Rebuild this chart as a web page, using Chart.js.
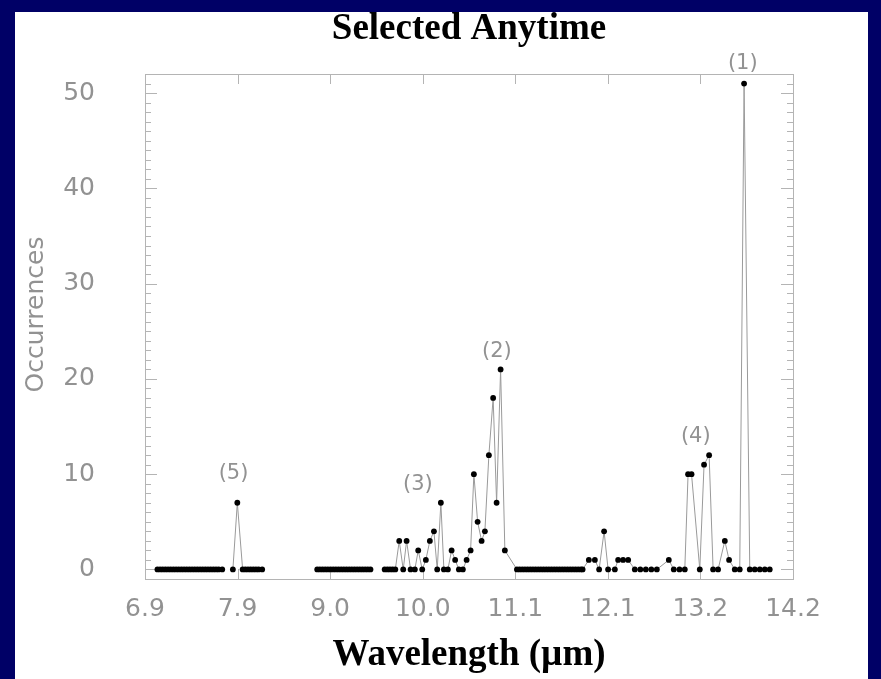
<!DOCTYPE html>
<html><head><meta charset="utf-8">
<script src="https://cdn.jsdelivr.net/npm/chart.js@4.4.1/dist/chart.umd.min.js"></script>
<style>
html,body{margin:0;padding:0;background:#000066;width:881px;height:679px;overflow:hidden;}
#panel{position:absolute;left:15px;top:12px;width:853px;height:667px;background:#fff;}
canvas{display:block;}
</style></head><body>
<div id="panel"><canvas id="c" width="853" height="667"></canvas></div>
<script>
// Wavelength (µm) of each channel; null occurrences break the line at channel gaps
const wavelengths = [
  7.04, 7.07, 7.10, 7.13, 7.16, 7.19, 7.22, 7.25, 7.28, 7.31, 7.34, 7.37, 7.40, 7.43, 7.46, 7.49, 7.52, 7.55, 7.58, 7.61, 7.64, 7.67, 7.70, 7.73, 7.77,
  7.83,
  7.89, 7.94,
  8.00, 8.03, 8.06, 8.09, 8.12, 8.15, 8.18, 8.22,
  8.50,
  8.84, 8.87, 8.90, 8.93, 8.96, 8.99, 9.02, 9.05, 9.08, 9.11, 9.14, 9.17, 9.20, 9.23, 9.26, 9.29, 9.32, 9.35, 9.38, 9.41, 9.44,
  9.52,
  9.60, 9.63, 9.66, 9.69, 9.72,
  9.764, 9.809, 9.847, 9.892, 9.94, 9.978, 10.023, 10.064, 10.109, 10.155, 10.192, 10.233, 10.267, 10.312, 10.354, 10.394,
  10.436, 10.481, 10.523, 10.568, 10.605, 10.647, 10.692, 10.729, 10.774, 10.822, 10.861, 10.906, 10.954,
  11.09, 11.12, 11.15, 11.18, 11.21, 11.24, 11.27, 11.30, 11.33, 11.36, 11.39, 11.42, 11.45, 11.48, 11.51, 11.54, 11.57, 11.60, 11.63, 11.66, 11.69, 11.72, 11.75, 11.78, 11.81, 11.83,
  11.90, 11.968, 12.016, 12.072, 12.117, 12.193, 12.23, 12.286, 12.343, 12.418, 12.48, 12.542, 12.604, 12.666,
  12.801, 12.857, 12.921, 12.981, 13.018, 13.057, 13.15, 13.198, 13.255, 13.30, 13.356, 13.432, 13.48, 13.544, 13.60,
  13.649, 13.713, 13.769, 13.826, 13.882, 13.938
];
const occurrences = [
  0,0,0,0,0,0,0,0,0,0,0,0,0,0,0,0,0,0,0,0,0,0,0,0,0,
  null,
  0, 7,
  0,0,0,0,0,0,0,0,
  null,
  0,0,0,0,0,0,0,0,0,0,0,0,0,0,0,0,0,0,0,0,0,
  null,
  0,0,0,0,0,
  3, 0, 3, 0, 0, 2, 0, 1, 3, 4, 0, 7, 0, 0, 2, 1,
  0, 0, 1, 2, 10, 5, 3, 4, 12, 18, 7, 21, 2,
  0,0,0,0,0,0,0,0,0,0,0,0,0,0,0,0,0,0,0,0,0,0,0,0,0,0,
  1, 1, 0, 4, 0, 0, 1, 1, 1, 0, 0, 0, 0, 0,
  1, 0, 0, 0, 10, 10, 0, 11, 12, 0, 0, 3, 1, 0, 0,
  51, 0, 0, 0, 0, 0
];
const xTickLabels = ['6.9', '7.9', '9.0', '10.0', '11.1', '12.1', '13.2', '14.2'];
const yTickValues = [0, 10, 20, 30, 40, 50];
const peakLabels = ['(1)', '(2)', '(3)', '(4)', '(5)'];
const peakLabelX = [13.634, 10.864, 9.974, 13.105, 7.897];
const peakLabelY = [53.1, 22.9, 8.9, 13.96, 10.07];

const X_MIN = 6.9, X_MAX = 14.2, Y_MIN = -1, Y_MAX = 52;
const AXIS_COLOR = '#b4b4b4';
const LABEL_COLOR = '#929292';

const points = wavelengths.map((w, i) => ({ x: w, y: occurrences[i] }));

const framePlugin = {
  id: 'frame',
  beforeDatasetsDraw(chart) {
    const { ctx, chartArea: a, scales: { x, y } } = chart;
    ctx.save();
    ctx.strokeStyle = AXIS_COLOR;
    ctx.lineWidth = 1;
    ctx.strokeRect(Math.round(a.left) + 0.5, Math.round(a.top) + 0.5, Math.round(a.right - a.left), Math.round(a.bottom - a.top));
    ctx.beginPath();
    x.ticks.forEach(t => {
      const px = Math.round(x.getPixelForValue(t.value)) + 0.5;
      ctx.moveTo(px, a.bottom); ctx.lineTo(px, a.bottom - 10);
      ctx.moveTo(px, a.top); ctx.lineTo(px, a.top + 10);
    });
    for (let v = Math.ceil(Y_MIN); v <= Math.floor(Y_MAX); v++) {
      const py = Math.round(y.getPixelForValue(v)) + 0.5;
      const len = (v % 10 === 0) ? 12 : 6;
      ctx.moveTo(a.left, py); ctx.lineTo(a.left + len, py);
      ctx.moveTo(a.right, py); ctx.lineTo(a.right - len, py);
    }
    ctx.stroke();
    ctx.restore();
  },
  afterDraw(chart) {
    const { ctx, chartArea: a, scales: { x, y } } = chart;
    ctx.save();
    ctx.fillStyle = LABEL_COLOR;
    ctx.font = '21px "DejaVu Sans"';
    ctx.textAlign = 'center';
    ctx.textBaseline = 'middle';
    peakLabels.forEach((lbl, i) => {
      ctx.fillText(lbl, x.getPixelForValue(peakLabelX[i]), y.getPixelForValue(peakLabelY[i]));
    });
    const cx = (a.left + a.right) / 2;
    ctx.fillStyle = '#000';
    ctx.font = 'bold 37px "Liberation Serif"';
    ctx.fillText('Selected Anytime', cx, 17);
    ctx.fillText('Wavelength (\u00b5m)', cx, 643);
    ctx.fillStyle = LABEL_COLOR;
    ctx.font = '25px "DejaVu Sans"';
    ctx.translate(21, (a.top + a.bottom) / 2 - 12);
    ctx.rotate(-Math.PI / 2);
    ctx.fillText('Occurrences', 0, 0);
    ctx.restore();
  }
};

new Chart(document.getElementById('c'), {
  type: 'scatter',
  data: {
    datasets: [{
      data: points,
      showLine: true,
      spanGaps: false,
      borderColor: '#9a9a9a',
      borderWidth: 1,
      pointRadius: 2.9,
      pointBackgroundColor: '#000',
      pointBorderWidth: 0,
      pointHoverRadius: 2.9
    }]
  },
  options: {
    responsive: false,
    animation: false,
    devicePixelRatio: 1,
    layout: { padding: { left: 0, right: 75, top: 62, bottom: 0 } },
    plugins: { legend: { display: false }, tooltip: { enabled: false }, title: { display: false } },
    scales: {
      x: {
        type: 'linear', min: X_MIN, max: X_MAX,
        afterBuildTicks: s => {
          s.ticks = xTickLabels.map((t, i) => ({ value: X_MIN + i * (X_MAX - X_MIN) / (xTickLabels.length - 1) }));
        },
        afterFit: s => { s.height = 100; s.paddingLeft = 0; s.paddingRight = 0; },
        grid: { display: false, drawTicks: false },
        border: { display: false },
        ticks: {
          callback: (v, i) => xTickLabels[i],
          color: LABEL_COLOR, font: { family: 'DejaVu Sans', size: 25 },
          padding: 15, maxRotation: 0, autoSkip: false
        }
      },
      y: {
        type: 'linear', min: Y_MIN, max: Y_MAX,
        afterBuildTicks: s => { s.ticks = yTickValues.map(v => ({ value: v })); },
        afterFit: s => { s.width = 130; s.paddingTop = 0; s.paddingBottom = 0; },
        grid: { display: false, drawTicks: false },
        border: { display: false },
        ticks: {
          color: LABEL_COLOR, font: { family: 'DejaVu Sans', size: 25 },
          padding: 50, autoSkip: false
        }
      }
    }
  },
  plugins: [framePlugin]
});
</script>
</body></html>
